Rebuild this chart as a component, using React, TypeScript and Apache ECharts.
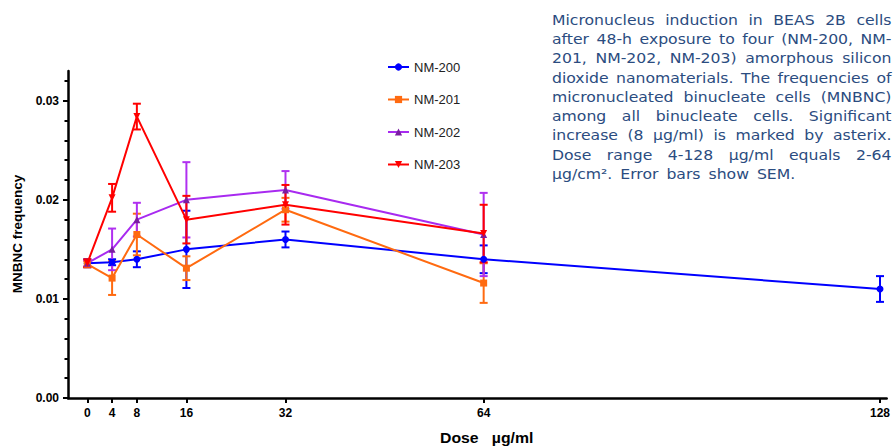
import React, { useEffect, useRef } from "react";
import * as echarts from "echarts";

const doses200 = [0, 4, 8, 16, 32, 64, 128];
const doses = [0, 4, 8, 16, 32, 64];
const nm200Mean = [0.0136, 0.0137, 0.014, 0.015, 0.016, 0.014, 0.011];
const nm200Sem = [0.0004, 0.0003, 0.0008, 0.0039, 0.0008, 0.0014, 0.0013];
const nm201Mean = [0.0135, 0.0121, 0.0165, 0.0131, 0.019, 0.0116];
const nm201Sem = [0.0003, 0.0017, 0.0021, 0.0012, 0.0012, 0.002];
const nm202Mean = [0.0136, 0.015, 0.018, 0.02, 0.021, 0.0165];
const nm202Sem = [0.0003, 0.0021, 0.0017, 0.0038, 0.0019, 0.0042];
const nm203Mean = [0.0136, 0.0202, 0.0284, 0.018, 0.0195, 0.0166];
const nm203Sem = [0.0004, 0.0014, 0.0013, 0.0024, 0.002, 0.0029];

const xTicks = [0, 4, 8, 16, 32, 64, 128];
const yTicks = [0, 0.01, 0.02, 0.03];

const captionLines = [
  "Micronucleus induction in BEAS 2B cells",
  "after 48-h exposure to four (NM-200, NM-",
  "201, NM-202, NM-203) amorphous silicon",
  "dioxide nanomaterials. The frequencies of",
  "micronucleated binucleate cells (MNBNC)",
  "among all binucleate cells. Significant",
  "increase (8 µg/ml) is marked by asterix.",
  "Dose range 4-128 µg/ml equals 2-64",
  "µg/cm². Error bars show SEM.",
];

export default function App() {
  const ref = useRef<HTMLDivElement>(null);
  useEffect(() => {
    if (!ref.current) return;
    const chart = echarts.init(ref.current, undefined, { renderer: "svg" });

    const minorTicks: number[] = [];
    for (let k = 1; k <= 16; k++) {
      if (k % 5 !== 0) minorTicks.push(+(k * 0.002).toFixed(3));
    }

    const makeErr = (xs: number[], m: number[], s: number[]) =>
      xs.map((x, i) => [x, m[i] - s[i], m[i] + s[i]]);

    const errSeries = (data: number[][], color: string) => ({
      type: "custom",
      xAxisIndex: 0,
      yAxisIndex: 0,
      silent: true,
      data,
      encode: { x: 0, y: [1, 2] },
      renderItem: (params: any, api: any) => {
        const x = api.value(0);
        const lo = api.coord([x, api.value(1)]);
        const hi = api.coord([x, api.value(2)]);
        const st = { stroke: color, lineWidth: 2 };
        return {
          type: "group",
          children: [
            { type: "line", shape: { x1: lo[0], y1: lo[1], x2: hi[0], y2: hi[1] }, style: st },
            { type: "line", shape: { x1: lo[0] - 4, y1: lo[1], x2: lo[0] + 4, y2: lo[1] }, style: st },
            { type: "line", shape: { x1: hi[0] - 4, y1: hi[1], x2: hi[0] + 4, y2: hi[1] }, style: st },
          ],
        };
      },
    });

    const lineSeries = (
      name: string,
      xs: number[],
      m: number[],
      lineColor: string,
      markColor: string,
      symbol: string,
      rotate = 0
    ) => ({
      type: "line",
      name,
      data: xs.map((x, i) => [x, m[i]]),
      symbol,
      symbolRotate: rotate,
      symbolSize: 7,
      lineStyle: { color: lineColor, width: 2 },
      itemStyle: { color: markColor },
    });

    // caption, justified; the source image is slightly stretched horizontally
    const capStretch = 1.08;
    const capSize = 14.5;
    const capFamily = "DejaVu Sans";
    const cv = document.createElement("canvas").getContext("2d") as CanvasRenderingContext2D;
    cv.font = `${capSize}px "${capFamily}"`;
    const x0 = 552;
    const x1 = 891.5;
    const lineY0 = 20;
    const lineStep = 19.25;
    const capStyle = (t: string) => ({
      text: t,
      fontSize: capSize,
      fontFamily: capFamily,
      fill: "#2b4c80",
      verticalAlign: "middle",
      textVerticalAlign: "middle",
    });
    const graphics: any[] = [];
    captionLines.forEach((ln, i) => {
      const y = lineY0 + i * lineStep;
      const words = ln.split(" ");
      const widths = words.map((w) => cv.measureText(w).width * capStretch);
      const sum = widths.reduce((a, b) => a + b, 0);
      const gap =
        i === captionLines.length - 1 || words.length < 2
          ? cv.measureText(" ").width * capStretch * 1.6
          : (x1 - x0 - sum) / (words.length - 1);
      let cx = x0;
      words.forEach((w, j) => {
        graphics.push({ type: "text", x: cx, y, scaleX: capStretch, style: capStyle(w) });
        cx += widths[j] + gap;
      });
    });
    graphics.push({
      type: "text",
      x: 440,
      y: 438,
      scaleX: 1.13,
      style: {
        text: "Dose   µg/ml",
        fontSize: 14,
        fontWeight: "bold",
        fontFamily: "Liberation Sans",
        fill: "#000",
        verticalAlign: "middle",
        textVerticalAlign: "middle",
      },
    });
    graphics.push({
      type: "text",
      x: 17,
      y: 234,
      rotation: Math.PI / 2,
      style: {
        text: "MNBNC frequency",
        fontSize: 13.5,
        fontWeight: "bold",
        fontFamily: "Liberation Sans",
        fill: "#000",
        align: "center",
        textAlign: "center",
        verticalAlign: "middle",
        textVerticalAlign: "middle",
      },
    });

    const axisFont = { fontFamily: "Liberation Sans", fontWeight: "bold", fontSize: 12, color: "#000" };

    chart.setOption({
      animation: false,
      grid: { left: 68, right: 6, top: 71, bottom: 48, containLabel: false },
      legend: {
        orient: "vertical",
        left: 382,
        top: 55.5,
        itemWidth: 21,
        itemHeight: 9,
        itemGap: 19.5,
        data: ["NM-200", "NM-201", "NM-202", "NM-203"],
        textStyle: { fontFamily: "Liberation Sans", fontSize: 13, color: "#222" },
      },
      xAxis: {
        type: "value",
        min: -3.12,
        max: 129.08,
        splitLine: { show: false },
        axisLine: { show: true, onZero: false, lineStyle: { color: "#000", width: 2.5 } },
        axisTick: { show: true, length: 5, lineStyle: { color: "#000", width: 2 }, customValues: xTicks },
        axisLabel: { ...axisFont, margin: 9, customValues: xTicks },
      },
      yAxis: [
        {
          type: "value",
          min: 0,
          max: 0.033,
          position: "left",
          splitLine: { show: false },
          axisLine: { show: true, onZero: false, lineStyle: { color: "#000", width: 2.5 } },
          axisTick: { show: true, length: 5, lineStyle: { color: "#000", width: 2 }, customValues: yTicks },
          axisLabel: { ...axisFont, margin: 9, customValues: yTicks, formatter: (v: number) => v.toFixed(2) },
        },
        {
          type: "value",
          min: 0,
          max: 0.033,
          position: "left",
          splitLine: { show: false },
          axisLine: { show: false, onZero: false },
          axisTick: { show: true, length: 3.5, lineStyle: { color: "#000", width: 2 }, customValues: minorTicks },
          axisLabel: { show: false },
        },
      ],
      series: [
        errSeries(makeErr(doses200, nm200Mean, nm200Sem), "#0000ff"),
        lineSeries("NM-200", doses200, nm200Mean, "#0000ff", "#0000ff", "circle"),
        errSeries(makeErr(doses, nm201Mean, nm201Sem), "#ff6a10"),
        lineSeries("NM-201", doses, nm201Mean, "#ff6a10", "#ff6a10", "rect"),
        errSeries(makeErr(doses, nm202Mean, nm202Sem), "#b030f0"),
        lineSeries("NM-202", doses, nm202Mean, "#a82af0", "#7a1ea0", "triangle"),
        errSeries(makeErr(doses, nm203Mean, nm203Sem), "#ff0000"),
        lineSeries("NM-203", doses, nm203Mean, "#ff0000", "#ff0000", "triangle", 180),
      ],
      graphic: graphics,
    });
    return () => chart.dispose();
  }, []);
  return <div ref={ref} style={{ width: 893, height: 446, position: "absolute", left: 0, top: 0 }} />;
}
